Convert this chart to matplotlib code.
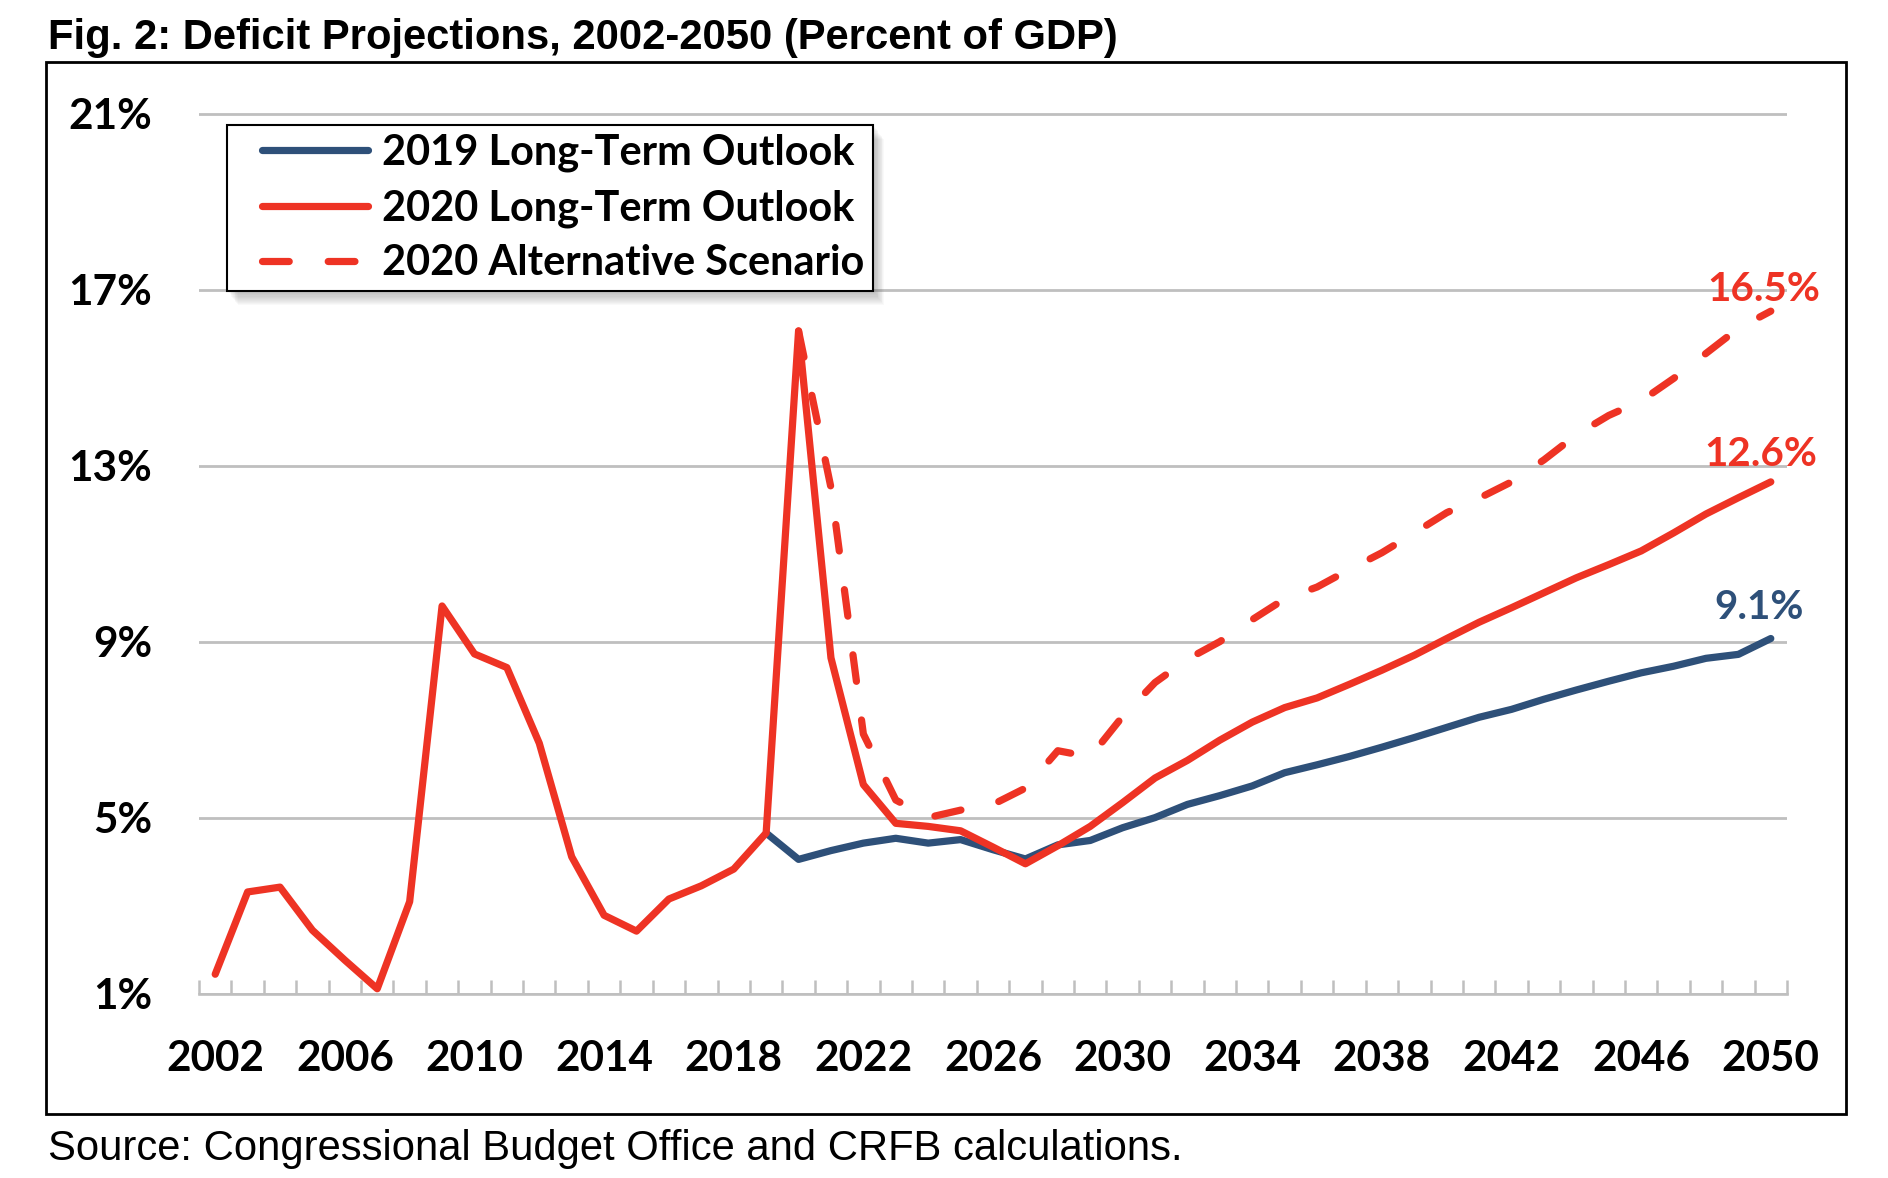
import matplotlib
matplotlib.use("Agg")
import matplotlib.pyplot as plt
from matplotlib.lines import Line2D
from matplotlib.legend_handler import HandlerLine2D
from matplotlib.patches import Rectangle
import numpy as np

# ---------------- data ----------------
years_2020 = list(range(2002, 2051))
lto_2020 = [1.44, 3.31, 3.42, 2.44, 1.76, 1.11, 3.09, 9.81, 8.72, 8.41, 6.69, 4.11,
            2.78, 2.42, 3.15, 3.45, 3.83, 4.65,
            16.06, 8.63, 5.75, 4.87, 4.80, 4.70, 4.33, 3.95, 4.36, 4.80, 5.34, 5.90,
            6.30, 6.76, 7.17, 7.50, 7.72, 8.03, 8.35, 8.69, 9.07, 9.44, 9.77, 10.11,
            10.45, 10.75, 11.06, 11.47, 11.90, 12.27, 12.63]

years_2019 = list(range(2019, 2051))
lto_2019 = [4.65, 4.05, 4.25, 4.42, 4.53, 4.42, 4.50, 4.27, 4.06, 4.38, 4.48, 4.77,
            5.00, 5.30, 5.50, 5.72, 6.02, 6.20, 6.39, 6.60, 6.82, 7.05, 7.28, 7.46,
            7.69, 7.90, 8.10, 8.29, 8.44, 8.62, 8.71, 9.07]

years_alt = list(range(2020, 2051))
alt_2020 = [16.06, 12.50, 6.90, 5.40, 5.00, 5.17, 5.30, 5.67, 6.52, 6.38, 7.30,
            8.07, 8.60, 9.00, 9.50, 9.97, 10.24, 10.64, 11.02, 11.47, 11.93, 12.26,
            12.63, 13.13, 13.70, 14.14, 14.47, 14.98, 15.55, 16.12, 16.51]

series_labels = ["2019 Long-Term Outlook", "2020 Long-Term Outlook", "2020 Alternative Scenario"]
x_ticks = list(range(2002, 2051, 4))
y_ticks = [1, 5, 9, 13, 17, 21]
y_tick_labels = [f"{v}%" for v in y_ticks]
title = "Fig. 2: Deficit Projections, 2002-2050 (Percent of GDP)"
source = "Source: Congressional Budget Office and CRFB calculations."

assert len(lto_2020) == len(years_2020)
assert len(lto_2019) == len(years_2019)
assert len(alt_2020) == len(years_alt)

# ---------------- style ----------------
W, H, DPI = 1888, 1178, 100
RED = "#EE3324"
BLUE = "#2E5079"
GRID = "#BFBFBF"
LW = 5.2
DASH = (3.7, 5.4)

plt.rcParams["font.family"] = ["Lato", "DejaVu Sans"]
plt.rcParams["font.weight"] = "bold"

fig = plt.figure(figsize=(W / DPI, H / DPI), dpi=DPI)
fig.patch.set_facecolor("white")


def fx(px):
    return px / W


def fy(py):
    return 1 - py / H


X0, X1 = 199, 1787
Y1PX = 993.6
PXPU = 44.0
YMAX = 21.2
ytop_px = Y1PX - (YMAX - 1) * PXPU
ax = fig.add_axes([fx(X0), fy(Y1PX), (X1 - X0) / W, (Y1PX - ytop_px) / H])
ax.set_xlim(2001.5, 2050.5)
ax.set_ylim(1, YMAX)
ax.set_facecolor("none")

for s in ["top", "right", "left"]:
    ax.spines[s].set_visible(False)
ax.spines["bottom"].set_color(GRID)
ax.spines["bottom"].set_linewidth(1.9)

ax.set_yticks(y_ticks, labels=y_tick_labels)
ax.set_xticks(x_ticks, labels=[str(v) for v in x_ticks])
ax.set_xticks(np.arange(2001.5, 2050.6, 1.0), minor=True)
ax.tick_params(axis="x", which="major", length=0, pad=30, labelsize=30.5, labelcolor="black")
ax.tick_params(axis="x", which="minor", length=10, width=1.8, color=GRID, direction="in")
ax.tick_params(axis="y", which="both", length=0, pad=33.8, labelsize=30.5, labelcolor="black")
ax.yaxis.grid(True, color=GRID, lw=2.0)
ax.set_axisbelow(True)

# ---------------- lines ----------------
ax.plot(years_2019, lto_2019, color=BLUE, lw=LW, solid_joinstyle="round",
        solid_capstyle="round", zorder=3)
ax.plot(years_alt, alt_2020, color=RED, lw=LW, linestyle=(0, DASH),
        dash_capstyle="round", dash_joinstyle="round", zorder=3.5)
ax.plot(years_2020, lto_2020, color=RED, lw=LW, solid_joinstyle="round",
        solid_capstyle="round", zorder=4)

# ---------------- end labels ----------------
end_specs = [
    (years_alt, alt_2020, RED, (-7, 10)),
    (years_2020, lto_2020, RED, (-10.5, 16)),
    (years_2019, lto_2019, BLUE, (-11.5, 20)),
]
end_texts = []
for yrs, vals, col, (dx, dy) in end_specs:
    t = ax.annotate(f"{vals[-1]:.1f}%", xy=(yrs[-1], vals[-1]),
                    xytext=(dx * 72 / DPI, dy * 72 / DPI), textcoords="offset points",
                    ha="center", va="baseline", color=col, fontsize=29,
                    fontweight="bold", zorder=6)
    end_texts.append(t)

# ---------------- title & source ----------------
t_title = fig.text(fx(48), fy(49.3), title, ha="left", va="baseline",
                   fontsize=29, fontweight="bold", family=["Liberation Sans", "DejaVu Sans"])
t_src = fig.text(fx(48), fy(1160), source, ha="left", va="baseline",
                 fontsize=28, fontweight="normal", family=["Liberation Sans", "DejaVu Sans"])

# outer frame
fig.patches.append(Rectangle((fx(45.5), fy(1114)), (1846 - 45.5) / W, (1114 - 61.7) / H,
                             transform=fig.transFigure, fill=False, edgecolor="black",
                             linewidth=2.0, zorder=10))

fig.canvas.draw()
r = fig.canvas.get_renderer()


def fit(text, target):
    w = text.get_window_extent(r).width
    text.set_fontsize(text.get_fontsize() * target / w)


fit(t_title, 1068)
fit(t_src, 1132)
fit(end_texts[0], 113)
for t in end_texts[1:]:
    t.set_fontsize(end_texts[0].get_fontsize())

# tick label size fit ("2050" ~ 98 px wide)
lab = ax.get_xticklabels()[-1]
w = lab.get_window_extent(r).width
ts = 30.5 * 98 / w
ax.tick_params(axis="both", which="major", labelsize=ts)
fig.canvas.draw()
# x tick label vertical: bbox top at ~1040 px from top
lab = ax.get_xticklabels()[-1]
top = lab.get_window_extent(r).y1
target_top = H - 1040
pad_new = 30 + (top - target_top) * 72 / DPI
ax.tick_params(axis="x", which="major", pad=pad_new)

# ---------------- legend ----------------
handles = [
    Line2D([], [], color=BLUE, lw=LW, solid_capstyle="round"),
    Line2D([], [], color=RED, lw=LW, solid_capstyle="round"),
    Line2D([], [], color=RED, lw=LW, linestyle=(0, DASH), dash_capstyle="round"),
]


def make_legend(fs, labelspacing=0.35):
    f = fs * DPI / 72
    pad_px = 9
    marker_pad_px = 26
    hw_px = 158
    htp_px = -12
    leg = ax.legend(handles, series_labels, loc="upper left",
                    bbox_to_anchor=(fx(227), fy(125)), bbox_transform=fig.transFigure,
                    borderaxespad=0, fontsize=fs, frameon=True, fancybox=False,
                    framealpha=1, edgecolor="black", borderpad=pad_px / f,
                    handlelength=hw_px / f, handletextpad=htp_px / f,
                    labelspacing=labelspacing, numpoints=2,
                    handler_map={Line2D: HandlerLine2D(marker_pad=marker_pad_px / f)},
                    prop={"family": ["Lato", "DejaVu Sans"], "weight": "bold", "size": fs})
    leg.get_frame().set_linewidth(1.5)
    leg.set_zorder(7)
    return leg


fs0 = 30
leg = make_legend(fs0)
fig.canvas.draw()
tw0 = leg.get_texts()[0].get_window_extent(r).width
tw2 = leg.get_texts()[2].get_window_extent(r).width
th = leg.get_texts()[0].get_window_extent(r).height
fs = fs0 * 0.5 * (469 / tw0 + 486 / tw2)
th = th * fs / fs0
f = fs * DPI / 72
ls = (55 - th) / f
leg.remove()
leg = make_legend(fs, ls)
fig.canvas.draw()

# soft shadow behind legend (fades toward bottom-right)
bb = leg.get_window_extent(r)
for i in range(12):
    ax.add_patch(Rectangle((bb.x0 + 2 + i * 0.8, bb.y0 - 2 - i * 1.1), bb.width,
                           bb.height, transform=None, facecolor="#606060",
                           edgecolor="none", alpha=0.035, zorder=6.5, clip_on=False))

fig.savefig("out.png", dpi=DPI, facecolor="white")
